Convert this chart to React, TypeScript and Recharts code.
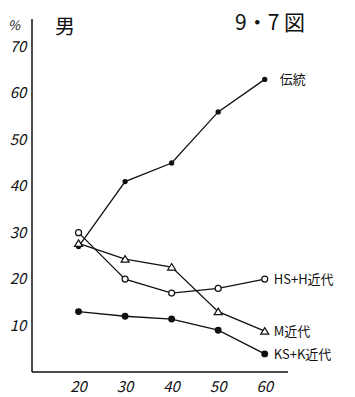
import { LineChart, Line, XAxis, YAxis } from 'recharts'

const ages = [20, 30, 40, 50, 60]
const dentou = [27, 41, 45, 56, 63]
const hsH = [30, 20, 17, 18, 20]
const mKindai = [27.7, 24.3, 22.6, 13, 8.8]
const ksK = [13, 12, 11.4, 9, 3.9]
const xTicks = [20, 30, 40, 50, 60]
const yTicks = [10, 20, 30, 40, 50, 60, 70]

const data = ages.map((age, i) => ({
  age,
  dentou: dentou[i],
  hsH: hsH[i],
  mKindai: mKindai[i],
  ksK: ksK[i],
}))

const FONT = '"Noto Sans CJK JP", "DejaVu Sans", sans-serif'

function endLabel(text: string, dx: number) {
  return (props: any) => {
    const { x, y, index } = props
    if (index !== ages.length - 1) return null
    return (
      <text x={x + dx} y={y} dy={5} fontSize={13} fontFamily={FONT} fill="#111">
        {text}
      </text>
    )
  }
}

const Triangle = (props: any) => {
  const { cx, cy } = props
  if (cx == null || cy == null) return null
  return (
    <path
      d={`M${cx},${cy - 3.5} L${cx + 4},${cy + 3} L${cx - 4},${cy + 3} Z`}
      fill="#fff"
      stroke="#111"
      strokeWidth={1.2}
    />
  )
}

const YTick = (props: any) => {
  const { y, payload } = props
  return (
    <text x={18} y={y} dy={5} textAnchor="middle" fontSize={15} fontStyle="italic" fontFamily={FONT} fill="#111">
      {payload.value}
    </text>
  )
}

const XTick = (props: any) => {
  const { x, y, payload } = props
  return (
    <text x={x} y={y} dy={12} textAnchor="middle" fontSize={15} fontStyle="italic" fontFamily={FONT} fill="#111">
      {payload.value}
    </text>
  )
}

export default function App() {
  return (
    <div style={{ position: 'absolute', left: 0, top: 0, width: 355, height: 397, background: '#fff' }}>
      <LineChart
        width={355}
        height={397}
        data={data}
        margin={{ top: 19, right: 67, left: 0, bottom: 0 }}
      >
        <XAxis
          dataKey="age"
          type="number"
          domain={[10, 65]}
          ticks={xTicks}
          tick={<XTick />}
          tickLine={false}
          axisLine={{ stroke: '#111', strokeWidth: 1.5 }}
          height={25}
        />
        <YAxis
          type="number"
          domain={[0, 76]}
          ticks={yTicks}
          tick={<YTick />}
          tickLine={false}
          axisLine={{ stroke: '#111', strokeWidth: 1.5 }}
          width={32}
        />
        <Line
          dataKey="dentou"
          stroke="#111"
          strokeWidth={1.3}
          dot={{ r: 2, fill: '#111', stroke: '#111' }}
          label={endLabel('伝統', 15)}
          isAnimationActive={false}
        />
        <Line
          dataKey="hsH"
          stroke="#111"
          strokeWidth={1.3}
          dot={{ r: 3, fill: '#fff', stroke: '#111', strokeWidth: 1.2 }}
          label={endLabel('HS+H近代', 9)}
          isAnimationActive={false}
        />
        <Line
          dataKey="mKindai"
          stroke="#111"
          strokeWidth={1.3}
          dot={<Triangle />}
          label={endLabel('M近代', 9)}
          isAnimationActive={false}
        />
        <Line
          dataKey="ksK"
          stroke="#111"
          strokeWidth={1.3}
          dot={{ r: 2.8, fill: '#111', stroke: '#111' }}
          label={endLabel('KS+K近代', 9)}
          isAnimationActive={false}
        />
        <text x={14} y={30} textAnchor="middle" fontSize={13} fontStyle="italic" fontFamily={FONT} fill="#111">%</text>
        <text x={55} y={34} fontSize={20} fontFamily={FONT} fill="#111">男</text>
        <text x={235} y={30} fontSize={21} fontFamily={FONT} fill="#111">9・7 図</text>
      </LineChart>
    </div>
  )
}
